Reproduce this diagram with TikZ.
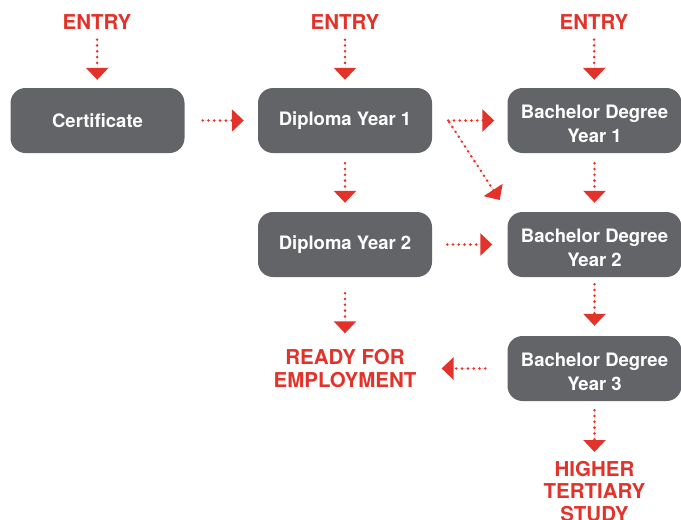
\documentclass[tikz,border=0pt]{standalone}
\usepackage{fontspec}
\setmainfont{TeX Gyre Heros}
\usepackage{tikz}
\usetikzlibrary{arrows.meta}

\definecolor{boxgray}{HTML}{636467}
\definecolor{pathred}{HTML}{E2332B}

% extra room above the first line of a two-line box
\newcommand{\liftline}{\rule{0pt}{21pt}}

\begin{document}
\begin{tikzpicture}[
		x=1pt, y=-1pt,
		stage/.style={fill=boxgray, rounded corners=15pt, minimum width=174pt, minimum height=65pt, inner sep=0pt, text=white, align=center, font=\bfseries\fontsize{18.5}{24}\selectfont},
		goal/.style={text=pathred, inner sep=0pt, align=center, font=\bfseries\fontsize{20.5}{22.5}\selectfont},
		flow/.style={-{Triangle[length=12pt, width=22pt]}, draw=pathred, fill=pathred, line width=2.8pt, line cap=round, dash pattern=on 0pt off 5.8pt}
	]
	\useasboundingbox (0,0) rectangle (681,520);

	\node[goal] (entryA) at (97,22) {ENTRY};
	\node[goal] (entryB) at (345,22) {ENTRY};
	\node[goal] (entryC) at (594,22) {ENTRY};

	\node[stage] (cert) at (97.5,120.5) {Certificate};
	\node[stage] (dipOne) at (345,120.5) {Diploma Year 1};
	\node[stage] (bachOne) at (594.5,120.5) {\liftline Bachelor Degree\\Year 1};

	\node[stage] (dipTwo) at (345,244.5) {Diploma Year 2};
	\node[stage] (bachTwo) at (594.5,244.5) {\liftline Bachelor Degree\\Year 2};

	\node[stage] (bachThree) at (594.5,368.5) {\liftline Bachelor Degree\\Year 3};

	\node[goal] (ready) at (345,368.5) {READY FOR\\EMPLOYMENT};
	\node[goal, anchor=north] (higher) at (594.5,461) {HIGHER\\TERTIARY\\STUDY};

	\draw[flow, shorten <=10pt, shorten >=8pt] (entryA) -- (cert);
	\draw[flow, shorten <=10pt, shorten >=8pt] (entryB) -- (dipOne);
	\draw[flow, shorten <=10pt, shorten >=8pt] (entryC) -- (bachOne);

	\draw[flow, shorten <=18pt, shorten >=14pt] (cert) -- (dipOne);
	\draw[flow, shorten <=16pt, shorten >=13pt] (dipOne) -- (bachOne);
	\draw[flow, shorten <=2pt, shorten >=14pt] ([xshift=16pt]dipOne.east) -- (bachTwo.north west);

	\draw[flow, shorten <=10pt, shorten >=9pt] (dipOne) -- (dipTwo);
	\draw[flow, shorten <=10pt, shorten >=9pt] (bachOne) -- (bachTwo);
	\draw[flow, shorten <=15pt, shorten >=15pt] (dipTwo) -- (bachTwo);

	\draw[flow, shorten <=16pt, shorten >=16pt] (dipTwo) -- (ready);
	\draw[flow, shorten <=7pt, shorten >=10pt] (bachTwo) -- (bachThree);
	\draw[flow, shorten <=22pt, shorten >=25pt] (bachThree) -- (ready);
	\draw[flow, shorten <=9pt, shorten >=9pt] (bachThree) -- (higher);
\end{tikzpicture}
\end{document}
